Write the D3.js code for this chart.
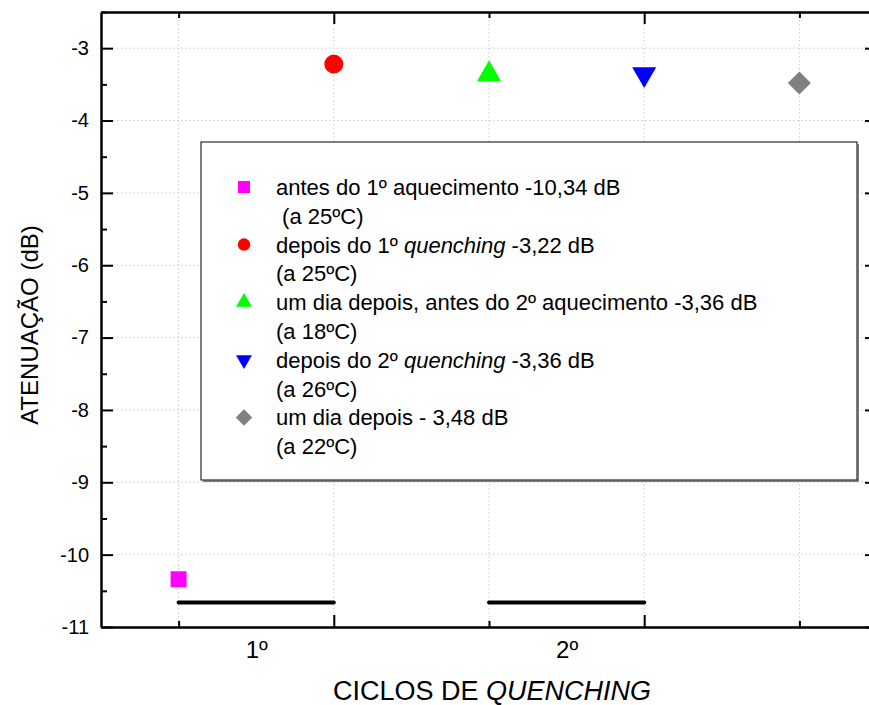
<!DOCTYPE html>
<html>
<head>
<meta charset="utf-8">
<script src="https://cdn.jsdelivr.net/npm/d3@7"></script>
<style>
  html, body { margin: 0; padding: 0; background: #fff; }
  svg { display: block; font-family: "Liberation Sans", Arial, Helvetica, sans-serif; }
</style>
</head>
<body>
<svg id="chart" width="869" height="705"></svg>
<script>
// ---------- data ----------
const categories = [1, 2, 3, 4, 5];
const attenuation = [-10.34, -3.22, -3.36, -3.36, -3.48];
const markerColors = ["#ff00ff", "#ff0000", "#00ff00", "#0000ff", "#808080"];
const markerShapes = ["square", "circle", "triangleUp", "triangleDown", "diamond"];
const legendMain = [
  ["antes do 1º aquecimento -10,34 dB"],
  ["depois do 1º ", "quenching", " -3,22 dB"],
  ["um dia depois, antes do 2º aquecimento -3,36 dB"],
  ["depois do 2º ", "quenching", " -3,36 dB"],
  ["um dia depois - 3,48 dB"]
];
const legendTemps = [" (a 25ºC)", "(a 25ºC)", "(a 18ºC)", "(a 26ºC)", "(a 22ºC)"];
const cycleStart = [1, 3];
const cycleEnd = [2, 4];
const cycleLevel = -10.66;
const cycleTickPos = [1.5, 3.5];
const cycleTickLabels = ["1º", "2º"];
const yMajorTicks = [-11, -10, -9, -8, -7, -6, -5, -4, -3];
const yMinorTicks = [-10.5, -9.5, -8.5, -7.5, -6.5, -5.5, -4.5, -3.5, -2.5];
const xMajorTicks = [2, 4];
const xMinorTicks = [1, 3, 5];

// ---------- layout ----------
const L = 101, R = 877, T = 12, B = 627;
const svg = d3.select("#chart");
const x = d3.scaleLinear().domain([0.5, 5.5]).range([L, R]);
const y = d3.scaleLinear().domain([-11, -2.5]).range([B, T]);

// grid
const grid = svg.append("g").attr("stroke", "#cccccc").attr("stroke-width", 1)
  .attr("stroke-dasharray", "1.5,2.5");
grid.selectAll("line.h").data(yMajorTicks.filter(d => d > -11)).join("line")
  .attr("x1", L).attr("x2", R).attr("y1", d => y(d)).attr("y2", d => y(d));
grid.selectAll("line.v").data(categories).join("line")
  .attr("y1", T).attr("y2", B).attr("x1", d => x(d)).attr("x2", d => x(d));

// axes
function styleAxis(g) {
  g.select(".domain").attr("stroke", "#000").attr("stroke-width", 2);
  g.selectAll(".tick line").attr("stroke", "#000").attr("stroke-width", 2);
}
const fmt = d => String(d);
svg.append("g").attr("transform", `translate(${L},0)`)
  .call(d3.axisLeft(y).tickValues(yMajorTicks).tickSizeInner(-12).tickSizeOuter(0).tickPadding(12).tickFormat(fmt))
  .call(styleAxis)
  .call(g => g.selectAll("text").attr("font-size", 20).attr("fill", "#000")
    .attr("font-family", "Liberation Sans, Arial, sans-serif"));
svg.append("g").attr("transform", `translate(${L},0)`)
  .call(d3.axisLeft(y).tickValues(yMinorTicks).tickSizeInner(-6).tickSizeOuter(0).tickFormat(""))
  .call(styleAxis);
svg.append("g").attr("transform", `translate(${R},0)`)
  .call(d3.axisRight(y).tickValues(yMajorTicks).tickSizeInner(-12).tickSizeOuter(0).tickFormat(""))
  .call(styleAxis);
svg.append("g").attr("transform", `translate(${R},0)`)
  .call(d3.axisRight(y).tickValues(yMinorTicks).tickSizeInner(-6).tickSizeOuter(0).tickFormat(""))
  .call(styleAxis);
svg.append("g").attr("transform", `translate(0,${B})`)
  .call(d3.axisBottom(x).tickValues(xMajorTicks).tickSizeInner(-12).tickSizeOuter(0).tickFormat(""))
  .call(styleAxis);
svg.append("g").attr("transform", `translate(0,${B})`)
  .call(d3.axisBottom(x).tickValues(xMinorTicks).tickSizeInner(-6).tickSizeOuter(0).tickFormat(""))
  .call(styleAxis);
svg.append("g").attr("transform", `translate(0,${B})`)
  .call(d3.axisBottom(x).tickValues(cycleTickPos).tickSize(0).tickPadding(14)
    .tickFormat((d, i) => cycleTickLabels[i]))
  .call(g => g.select(".domain").remove())
  .call(g => g.selectAll("text").attr("font-size", 24).attr("fill", "#000")
    .attr("font-family", "Liberation Sans, Arial, sans-serif"));
svg.append("g").attr("transform", `translate(0,${T})`)
  .call(d3.axisTop(x).tickValues(xMajorTicks).tickSizeInner(-12).tickSizeOuter(0).tickFormat(""))
  .call(styleAxis);
svg.append("g").attr("transform", `translate(0,${T})`)
  .call(d3.axisTop(x).tickValues(xMinorTicks).tickSizeInner(-6).tickSizeOuter(0).tickFormat(""))
  .call(styleAxis);

// axis titles
svg.append("text")
  .attr("transform", `translate(38,325) rotate(-90)`)
  .attr("text-anchor", "middle").attr("font-size", 24).attr("fill", "#000")
  .text("ATENUAÇÃO (dB)");
const xt = svg.append("text").attr("x", 492).attr("y", 700)
  .attr("text-anchor", "middle").attr("font-size", 27).attr("fill", "#000");
xt.append("tspan").text("CICLOS DE ");
xt.append("tspan").attr("font-style", "italic").text("QUENCHING");

// cycle bars
svg.append("g").selectAll("line").data(cycleStart).join("line")
  .attr("x1", d => x(d)).attr("x2", (d, i) => x(cycleEnd[i]))
  .attr("y1", y(cycleLevel)).attr("y2", y(cycleLevel))
  .attr("stroke", "#000").attr("stroke-width", 4).attr("stroke-linecap", "round");

// symbol helper
function symbolPath(shape, s) {
  switch (shape) {
    case "square": return d3.symbol(d3.symbolSquare, s * s)();
    case "circle": return d3.symbol(d3.symbolCircle, Math.PI * (s / 2) * (s / 2))();
    case "triangleUp":
    case "triangleDown": {
      const k = s / (2 * Math.sqrt(3));
      return d3.symbol(d3.symbolTriangle, k * k * 3 * Math.sqrt(3))();
    }
    case "diamond": {
      const side = s / Math.SQRT2;
      return d3.symbol(d3.symbolSquare, side * side)();
    }
  }
}
function symbolRotate(shape) {
  return shape === "triangleDown" ? 180 : shape === "diamond" ? 45 : 0;
}
const markerSizes = { square: 16, circle: 19, triangleUp: 24, triangleDown: 24, diamond: 23 };

// data markers
svg.append("g").selectAll("path").data(categories).join("path")
  .attr("d", (d, i) => symbolPath(markerShapes[i], markerSizes[markerShapes[i]]))
  .attr("transform", (d, i) => `translate(${x(d)},${y(attenuation[i])}) rotate(${symbolRotate(markerShapes[i])})`)
  .attr("fill", (d, i) => markerColors[i]);

// legend
const lg = svg.append("g");
const LX0 = 201, LY0 = 142, LX1 = 857, LY1 = 480;
lg.append("rect").attr("x", LX0).attr("y", LY0).attr("width", LX1 - LX0).attr("height", LY1 - LY0)
  .attr("fill", "#fff").attr("stroke", "#000").attr("stroke-width", 1);
lg.append("path").attr("d", `M${LX0 + 2},${LY1 + 1}H${LX1 + 1}V${LY0 + 2}`)
  .attr("fill", "none").attr("stroke", "#555").attr("stroke-width", 1.5);
const rowStep = 28.8, row0 = 187;
const legSizes = { square: 12, circle: 12.5, triangleUp: 16, triangleDown: 16, diamond: 16.5 };
legendMain.forEach((parts, i) => {
  const yy = row0 + rowStep * 2 * i;
  lg.append("path")
    .attr("d", symbolPath(markerShapes[i], legSizes[markerShapes[i]]))
    .attr("transform", `translate(244,${yy}) rotate(${symbolRotate(markerShapes[i])})`)
    .attr("fill", markerColors[i]);
  const t = lg.append("text").attr("x", 276).attr("y", yy).attr("dy", "0.36em")
    .attr("font-size", 22).attr("fill", "#000").style("white-space", "pre");
  parts.forEach((p, j) => {
    t.append("tspan").attr("font-style", j === 1 ? "italic" : "normal").text(p);
  });
  lg.append("text").attr("x", 276).attr("y", yy + rowStep).attr("dy", "0.36em")
    .attr("font-size", 22).attr("fill", "#000").style("white-space", "pre")
    .text(legendTemps[i]);
});
</script>
</body>
</html>
